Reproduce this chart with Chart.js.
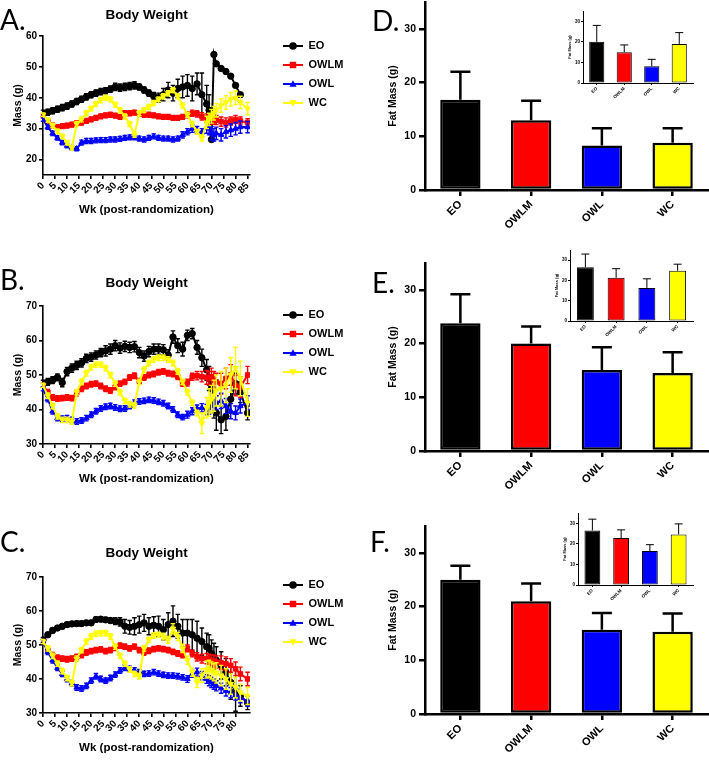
<!DOCTYPE html>
<html><head><meta charset="utf-8">
<script src="https://cdn.jsdelivr.net/npm/chart.js@4.4.1/dist/chart.umd.min.js"></script>
<style>
html,body{margin:0;padding:0;background:#fff}
body{width:709px;height:761px;position:relative;overflow:hidden}
canvas{position:absolute;display:block}
.pl{position:absolute;font-family:Lato,"Open Sans",sans-serif;font-size:28px;line-height:1;color:#000;white-space:nowrap}
</style></head><body>
<canvas id="cA" width="351" height="225" style="left:0;top:0"></canvas>
<canvas id="cB" width="351" height="226" style="left:0;top:268px"></canvas>
<canvas id="cC" width="351" height="223" style="left:0;top:538px"></canvas>
<canvas id="cD" width="349" height="255" style="left:360px;top:-10px"></canvas>
<canvas id="cE" width="349" height="255" style="left:360px;top:251px"></canvas>
<canvas id="cF" width="349" height="255" style="left:360px;top:514px"></canvas>
<canvas id="cDi" width="160" height="100" style="left:540px;top:0"></canvas>
<canvas id="cEi" width="160" height="100" style="left:540px;top:239px"></canvas>
<canvas id="cFi" width="160" height="100" style="left:540px;top:502px"></canvas>
<div class="pl" style="left:0;top:5px">A.</div>
<div class="pl" style="left:0;top:265px">B.</div>
<div class="pl" style="left:0;top:527px">C.</div>
<div class="pl" style="left:372px;top:6px">D.</div>
<div class="pl" style="left:372px;top:268px">E.</div>
<div class="pl" style="left:370px;top:527px">F.</div>
<script>
// ---------- data ----------
const GROUPS = ['EO','OWLM','OWL','WC'];
const WEEKS = [0,2,4,6,8,10,12,14,16,18,20,22,24,26,28,30,32,34,36,38,40,42,44,46,48,50,52,54,56,58,60,62,64,66,68,69,70,71,72,74,76,78,80,82,85];
const XTICKS_AB = [0,5,10,15,20,25,30,35,40,45,50,55,60,65,70,75,80,85];
const XTICKS_C = [0,5,10,15,20,25,30,35,40,45,50,55,60,65,70,75,80];
const YTICKS_A = [20,30,40,50,60];
const YTICKS_BC = [30,40,50,60,70];
const FAT_TICKS = [0,10,20,30];

// Panel A body weight (g)
const eoA   = [35,35.3,35.8,36.3,36.8,37.3,38,38.8,39.5,40.3,41,41.5,42,42.3,42.8,43.5,43.3,43.5,43.8,44,43.5,42.5,41.5,40.5,40,41,42.5,41.5,43,43.5,44,43,44.5,41,38,36,26.5,54,51,49.5,48.5,47,44,41,null];
const owlmA = [34,32.5,31,30.5,30.8,31,31.3,31.8,32,32.5,33,33.5,34,34.3,34.5,34.2,33.8,35,35,35.2,34.8,34.5,34.5,34.3,34,33.8,33.8,33.5,33.5,33.8,34.5,35,34.8,34,33.5,33.3,33,33,32.8,32.3,32,32.5,33,32.5,32];
const owlA  = [33,30.5,28.5,27,25.5,24.5,23.8,23.5,25.5,26,26,26.2,26.3,26.3,26.5,26.5,26.7,27,27.2,27.2,26.8,26.5,27,27.5,27,26.8,26.8,26.5,26.8,28,29,30,29.5,28.8,30.5,30,28.5,28,28.5,28,29,29.5,30,30.5,30.5];
const wcA   = [34.5,32.8,31,29.2,27.5,25.5,23.8,31.5,33,35,36.5,38,39.2,40,39.5,37.8,36,34,31.5,28,35,36,37,38.3,39.5,40.5,41.5,42.5,40.5,37.5,34.5,31.5,29,27,32,33,34,35,36,37.5,38.5,39.5,40,38.5,36.5];
const eoA_err   = [1,1,1,1,1,1,1,1,1,1,1,1,1,1,1,1.2,1.2,1.2,1.2,1.2,1,1,1,1.2,1.5,2,2.5,2.5,3,3.5,3.5,4,3.5,7,6,5,0,0,0.5,0.5,0.5,0.5,0.5,0.5,0];
const owlmA_err = [0.6,0.8,0.8,0.8,0.8,0.8,0.8,0.8,0.8,0.8,0.8,0.8,0.8,0.8,0.8,0.8,0.8,0.8,0.8,0.8,0.8,0.8,0.8,0.8,0.8,0.8,0.8,0.8,0.8,0.8,1,1,1,1.2,1.3,1.3,1.5,1.5,1.5,1.5,1.5,1.3,1.3,1.3,1.2];
const owlA_err  = [0.6,0.7,0.7,0.7,0.7,0.7,0.7,0.7,0.8,0.8,0.8,0.8,0.8,0.8,0.8,0.8,0.8,0.8,0.8,0.8,0.8,0.8,0.8,0.8,0.8,0.8,0.8,0.8,0.8,1,1,1.2,1.2,1.2,2,2,2.2,2,2,2,2,2,2,2,1.8];
const wcA_err   = [0.6,0.7,0.7,0.7,0.7,0.7,0.7,0.8,0.8,0.8,0.8,0.8,0.8,0.8,0.8,0.8,0.8,0.8,0.8,0.8,0.8,0.8,0.8,0.8,0.8,0.8,0.8,0.8,0.8,0.8,0.8,0.8,0.8,1,2,2,2.2,2.2,2.2,2.2,2.2,2.2,2.2,2,2];

// Panel B body weight (g)
const eoB   = [47.5,48,48.5,49.3,47.8,51,52,52.8,53.5,54.8,55.2,55.8,56.5,57,57.5,58.5,57.8,58.3,58,58.2,56.5,55.5,56.8,57.5,57.5,57.3,55.8,61,58.5,57.5,61.5,62,58,55,51.5,49,46,42,39,37,38,43,47.5,45,39];
const owlmB = [47,45,43.5,43.2,43.3,43.5,43.3,44.8,46,46.8,47.3,47.5,46.8,46,45.5,46.5,47.5,48,49.3,49.8,48.2,49.3,50,50.3,50.8,51,50.5,50.3,49.5,47.5,47.8,49.5,49.8,49.5,49.3,49,49.5,48.5,48,47.5,49,50,47,46.5,50];
const owlB  = [46,43,39.5,37.5,37.3,37.5,37,36.5,36.8,37.5,38.5,39.5,40.3,40.8,41,40.6,40.2,40.3,41,42,42.3,42.5,42.8,42.6,42.2,41.8,41,40,38.5,37.8,38.5,39.5,40.3,40.5,40,40.5,41,41.5,42,42.5,41,39.5,39,41,42];
const wcB   = [47,44,41,38,37,37,36.5,45,48,50.5,52.2,53,53,52,50,47.5,45,42.5,41.5,41.2,48,51.5,53.5,54.5,55,55,54.5,53.5,51,48,45,42,39,36,40.5,42,43,44,45.5,46,47,50,52,49,42];
const eoB_err   = [1,1,1,1,1.2,1.2,1.2,1.2,1.2,1.2,1.2,1.2,1.2,1.5,1.5,1.5,1.5,1.5,1.5,1.5,1.5,1.5,1.5,1.5,1.5,1.5,1.5,1.8,2,2,1.5,1.5,2,2.5,3,3.5,4,4.5,5,4,4,4,3,3,2];
const owlmB_err = [0.6,0.8,0.8,0.8,0.8,0.8,0.8,0.8,0.8,0.8,0.8,0.8,0.8,0.8,0.8,0.8,0.8,0.8,0.8,0.8,0.8,0.8,0.8,0.8,0.8,0.8,0.8,0.8,0.8,0.8,1,1,1.2,1.5,2,2,2.5,2.5,2.5,3,3,3,3,3,2.5];
const owlB_err  = [0.6,0.8,0.8,0.8,0.8,0.8,0.8,0.8,0.8,0.8,0.8,0.8,0.8,0.8,0.8,0.8,0.8,0.8,0.8,0.8,0.8,0.8,0.8,0.8,0.8,0.8,0.8,0.8,0.8,0.8,1,1,1,1.2,1.5,1.8,2,2,2,2.2,2.2,2.2,2,2,2];
const wcB_err   = [0.6,0.8,0.8,0.8,0.8,0.8,0.8,0.8,0.8,0.8,0.8,0.8,0.8,0.8,0.8,0.8,0.8,0.8,0.8,0.8,0.8,0.8,0.8,0.8,0.8,0.8,0.8,0.8,0.8,0.8,0.8,0.8,0.8,3,3,4,4,4.5,4.5,5,5,5,6,5,4];

// Panel C body weight (g)
const eoC   = [51.5,53,54.3,55,55.5,56,56.2,56.3,56.3,56.5,56.5,57.5,57.6,57.4,57.2,57,56.8,55.5,55.2,55.5,56,56.5,55.5,55.8,55.5,54.5,56,57,55.5,53.5,53.5,53,52,51,49.5,49,47.5,46.5,45.5,44,42,39,36.5,35,33];
const owlmC = [51,48.5,47,46.3,46,45.8,46,46.5,47,47.8,48.2,48.5,48.7,48.2,48.5,49.2,49.8,49.5,49,49.5,48.5,47.8,48.3,48.8,49,48.8,48.5,48,47.5,47,49,47.5,46.5,46,46,45.8,45.5,45.3,45,44.8,44.5,44,43,41.5,40];
const owlC  = [51,48,45.5,43.3,41.5,40,38.8,37.5,37.2,38,39.5,40.8,40,39.5,40.3,41.3,42.5,43.3,43,42.5,42,41.5,41.6,42,41.6,41.2,41,41,40.8,40.5,40,41.5,42,41,40,39.5,39,38.5,38,37.3,36.5,36,35.3,34.5,33.5];
const wcC   = [51,49,46.8,44.5,42.3,40.3,38.8,46,48.5,51,52.5,53.3,53.5,53.5,52.5,49.5,46.8,44.5,42.8,41.5,40.8,49,51.5,52.8,53,52.5,51.5,54.8,52.5,49,45.5,42,39,41,42.8,43,42.5,42,41.8,41,40,38.5,37.5,36,35];
const eoC_err   = [0.7,0.7,0.7,0.7,0.7,0.7,0.7,0.7,0.7,0.7,0.7,0.7,0.7,0.7,0.7,1,1.2,2,2,2.5,2.5,2.5,2.5,2.5,3,3,3.5,4.5,3.5,4,4,4.5,5,4,4,4,4,4,4,4,4,5,6,3,2];
const owlmC_err = [0.6,0.8,0.8,0.8,0.8,0.8,0.8,0.8,0.8,0.8,0.8,0.8,0.8,0.8,0.8,0.8,0.8,0.8,0.8,0.8,0.8,0.8,0.8,0.8,0.8,0.8,0.8,0.8,0.8,0.8,1,1,1.2,1.3,1.5,1.5,1.5,1.8,1.8,2,2,2,2,2,2];
const owlC_err  = [0.6,0.8,0.8,0.8,0.8,0.8,0.8,0.8,0.8,0.8,0.8,0.8,0.8,0.8,0.8,0.8,0.8,0.8,0.8,0.8,0.8,0.8,0.8,0.8,0.8,0.8,0.8,0.8,0.8,0.8,1,1,1.2,1.2,1.3,1.5,1.5,1.5,1.5,1.5,1.5,1.5,1.5,1.5,1.5];
const wcC_err   = [0.6,0.8,0.8,0.8,0.8,0.8,0.8,0.8,0.8,0.8,0.8,0.8,0.8,0.8,0.8,0.8,0.8,0.8,0.8,0.8,0.8,0.8,0.8,0.8,0.8,1,1,1.5,1.2,1.2,1.2,1.2,1.5,2,2.5,2.5,2.5,2.5,3,3,3,3,3,2.5,2.5];

// Fat mass (g): main bars and insets
const fatD = [16.8,13,8.3,8.8];      const fatD_err = [5.2,3.6,3.2,2.7];
const fatDin = [20,15,8.2,19];       const fatDin_err = [8,3.5,3.3,5.5];
const fatE = [23.8,20,15.1,14.5];    const fatE_err = [5.4,3.2,4.2,3.9];
const fatEin = [26.5,21.3,16.3,24.8];const fatEin_err = [6.5,4.5,4.5,3.2];
const fatF = [25,21,15.7,15.3];      const fatF_err = [2.6,3.3,3.1,3.4];
const fatFin = [26.5,22.8,16.5,24.6];const fatFin_err = [5.5,4,3.1,5.1];

// ---------- styling ----------
const COLORS = ['#000000','#ff0000','#0000ff','#ffff00'];
const MARKERS = [{s:'circle',r:0},{s:'rect',r:0},{s:'triangle',r:0},{s:'triangle',r:180}];
Chart.defaults.font.family = '"Liberation Sans", Arial, Helvetica, sans-serif';
Chart.defaults.color = '#000';

function markerPath(g, m, cx, cy, r){
  g.beginPath();
  if (m.s === 'circle') g.arc(cx, cy, r, 0, Math.PI*2);
  else if (m.s === 'rect') g.rect(cx-r*0.85, cy-r*0.85, r*1.7, r*1.7);
  else { const d = m.r === 180 ? -1 : 1; g.moveTo(cx, cy-d*r); g.lineTo(cx+r*0.95, cy+d*r*0.7); g.lineTo(cx-r*0.95, cy+d*r*0.7); g.closePath(); }
}
function makeIcon(i){
  const c = document.createElement('canvas'); c.width = 20; c.height = 12;
  const g = c.getContext('2d');
  g.strokeStyle = COLORS[i]; g.fillStyle = COLORS[i]; g.lineWidth = 2;
  g.beginPath(); g.moveTo(0,6); g.lineTo(20,6); g.stroke();
  markerPath(g, MARKERS[i], 10, 6, 3.8); g.fill();
  return c;
}
const ICONS = GROUPS.map((g,i)=>makeIcon(i));

const errorBars = {
  id:'errorBars',
  afterDatasetDraw(chart, args){
    const ds = chart.data.datasets[args.index];
    if (!ds.errors) return;
    const meta = args.meta, ys = chart.scales[meta.yAxisID], ctx = chart.ctx, a = chart.chartArea;
    ctx.save();
    ctx.beginPath(); ctx.rect(a.left-6, a.top-12, a.right-a.left+12, a.bottom-a.top+12); ctx.clip();
    ctx.strokeStyle = ds.errorColor; ctx.lineWidth = ds.errorWidth;
    const c = ds.capWidth/2;
    meta.data.forEach((el,i)=>{
      const raw = ds.data[i];
      const v = (raw !== null && typeof raw === 'object') ? raw.y : raw;
      const e = ds.errors[i];
      if (v === null || v === undefined || !e) return;
      const x = el.x, hi = ys.getPixelForValue(v+e);
      const lo = ds.errorUpOnly ? ys.getPixelForValue(v) : ys.getPixelForValue(v-e);
      ctx.beginPath();
      ctx.moveTo(x, lo); ctx.lineTo(x, hi);
      ctx.moveTo(x-c, hi); ctx.lineTo(x+c, hi);
      if (!ds.errorUpOnly){ ctx.moveTo(x-c, lo); ctx.lineTo(x+c, lo); }
      ctx.stroke();
    });
    ctx.restore();
  }
};
const legendShift = {
  id:'legendShift',
  afterUpdate(chart, args, opts){
    const lg = chart.legend;
    if (lg && opts && opts.dy){ lg.top += opts.dy; lg.bottom += opts.dy; }
  }
};

function axisStyle(lw, tl){
  return {
    grid:{display:true, drawOnChartArea:false, drawTicks:true, tickLength:tl, color:'#000', lineWidth:lw},
    border:{display:true, color:'#000', width:lw}
  };
}

function lineChart(id, series, errs, yMin, yMax, yTicks, xTicks, L){
  const datasets = GROUPS.map((g,i)=>({
    label:g, xAxisID:'x', yAxisID:'y',
    data: WEEKS.map((w,j)=>({x:w, y:series[i][j]})),
    errors: errs[i], errorColor: COLORS[i], errorWidth: 1.4, capWidth: 4.5,
    borderColor: COLORS[i], backgroundColor: COLORS[i], borderWidth: 2,
    pointStyle: MARKERS[i].s, pointRotation: MARKERS[i].r, pointRadius: 3.2, pointBorderWidth: 1,
    order: 4-i, tension: 0, spanGaps: false, fill: false
  }));
  new Chart(document.getElementById(id), {
    type:'line',
    data:{datasets},
    options:{
      responsive:false, animation:false, devicePixelRatio:1, events:[],
      layout:{padding:0},
      plugins:{
        tooltip:{enabled:false}, title:{display:false},
        legendShift:{dy:L.dy},
        legend:{display:true, position:'right', align:'start', fullSize:false, maxWidth:76,
          labels:{usePointStyle:true, pointStyleWidth:20, padding:8, color:'#000', font:{size:11, weight:'bold'},
            generateLabels:(chart)=>{
              const items = Chart.defaults.plugins.legend.labels.generateLabels(chart);
              items.forEach(it=>{ it.pointStyle = ICONS[it.datasetIndex]; it.rotation = 0; it.fontColor = '#000'; });
              return items;
            },
            sort:(a,b)=>a.datasetIndex-b.datasetIndex}}
      },
      scales:{
        x:Object.assign(axisStyle(1.6,4), {
          type:'linear', position:'bottom', min:0, max:86,
          afterBuildTicks:s=>{ s.ticks = xTicks.map(v=>({value:v})); },
          afterFit:s=>{ s.height = L.xH; },
          ticks:{autoSkip:false, minRotation:45, maxRotation:45, padding:1, color:'#000', font:{size:10, weight:'bold'}, callback:v=>String(v)},
          title:{display:true, text:'Wk (post-randomization)', color:'#000', font:{size:11.5, weight:'bold'}, padding:{top:0, bottom:L.xtp}}
        }),
        y:Object.assign(axisStyle(1.6,4), {
          type:'linear', position:'left', min:yMin, max:yMax,
          afterBuildTicks:s=>{ s.ticks = yTicks.map(v=>({value:v})); },
          afterFit:s=>{ s.width = 43; },
          ticks:{padding:2, color:'#000', font:{size:10, weight:'bold'}, callback:v=>String(v)},
          title:{display:true, text:'Mass (g)', color:'#000', font:{size:10.5, weight:'bold'}, padding:{top:L.ytp, bottom:0}}
        }),
        xTop:{
          type:'linear', position:'top', display:true,
          grid:{display:false}, border:{display:false}, ticks:{display:false},
          title:{display:true, text:'Body Weight', color:'#000', font:{size:13.5, weight:'bold'}, padding:{top:L.tp, bottom:0}},
          afterFit:s=>{ s.height = L.topH; }
        },
        yRight:{
          type:'linear', position:'right', display:true,
          grid:{display:false}, border:{display:false}, ticks:{display:false},
          afterFit:s=>{ s.width = 25; }
        }
      }
    },
    plugins:[errorBars, legendShift]
  });
}

function barChart(id, vals, errs, L){
  new Chart(document.getElementById(id), {
    type:'bar',
    data:{labels:GROUPS, datasets:[{
      data:vals, errors:errs, errorUpOnly:true, errorColor:'#000', errorWidth:L.lw, capWidth:L.cap,
      backgroundColor:COLORS, borderColor:'#000', borderWidth:L.bw, borderSkipped:false,
      barPercentage:L.bp, categoryPercentage:1
    }]},
    options:{
      responsive:false, animation:false, devicePixelRatio:1, events:[],
      layout:{padding:{top:L.pt, right:L.pr, left:0, bottom:0}},
      plugins:{legend:{display:false}, tooltip:{enabled:false}, title:{display:false}},
      scales:{
        x:{
          grid:{display:true, offset:false, drawOnChartArea:false, drawTicks:true, tickLength:L.tl, color:'#000', lineWidth:L.lw},
          border:{display:true, color:'#000', width:L.lw},
          ticks:{autoSkip:false, minRotation:45, maxRotation:45, padding:L.xpad, color:'#000', font:{size:L.xf, weight:'bold'}},
          afterFit:s=>{ s.height = L.xH; }
        },
        y:Object.assign(axisStyle(L.lw, L.tl), {
          min:0, max:35,
          afterBuildTicks:s=>{ s.ticks = FAT_TICKS.map(v=>({value:v})); },
          afterFit:s=>{ s.width = L.yW; },
          ticks:{padding:L.ypad, color:'#000', font:{size:L.yf, weight:'bold'}, callback:v=>String(v)},
          title:{display:true, text:'Fat Mass (g)', color:'#000', font:{size:L.tf, weight:'bold'}, padding:{top:L.tpad, bottom:0}}
        })
      }
    },
    plugins:[errorBars]
  });
}

// ---------- layout (positions only) ----------
const LA = {topH:36, xH:50, tp:6.9, xtp:8.1, ytp:11.5, dy:-3.5};
const LB = {topH:38, xH:50, tp:6.9, xtp:8.1, ytp:11.5, dy:-4.5};
const LC = {topH:39, xH:48, tp:6.9, xtp:6.1, ytp:11.5, dy:-5.5};
const LMAIN = {pt:12, pr:1, yW:65, xH:55, bw:2.5, lw:2.5, tl:6, cap:20, bp:0.57, xf:11, yf:10.5, tf:10.5, tpad:27, ypad:3, xpad:2};
const LIN_D = {pt:11, pr:7, yW:43, xH:17, bw:1, lw:1, tl:2, cap:8, bp:0.55, xf:4.5, yf:4.5, tf:4, tpad:27.6, ypad:1, xpad:1};
const LIN_E = Object.assign({}, LIN_D, {yW:30, xH:18, tpad:14.6});
const LIN_F = Object.assign({}, LIN_D, {yW:38, xH:17, tpad:22.6});

lineChart('cA', [eoA,owlmA,owlA,wcA], [eoA_err,owlmA_err,owlA_err,wcA_err], 15, 60, YTICKS_A, XTICKS_AB, LA);
lineChart('cB', [eoB,owlmB,owlB,wcB], [eoB_err,owlmB_err,owlB_err,wcB_err], 30, 70, YTICKS_BC, XTICKS_AB, LB);
lineChart('cC', [eoC,owlmC,owlC,wcC], [eoC_err,owlmC_err,owlC_err,wcC_err], 30, 70, YTICKS_BC, XTICKS_C, LC);
barChart('cD', fatD, fatD_err, LMAIN);
barChart('cE', fatE, fatE_err, LMAIN);
barChart('cF', fatF, fatF_err, LMAIN);
barChart('cDi', fatDin, fatDin_err, LIN_D);
barChart('cEi', fatEin, fatEin_err, LIN_E);
barChart('cFi', fatFin, fatFin_err, LIN_F);
</script>
</body></html>
